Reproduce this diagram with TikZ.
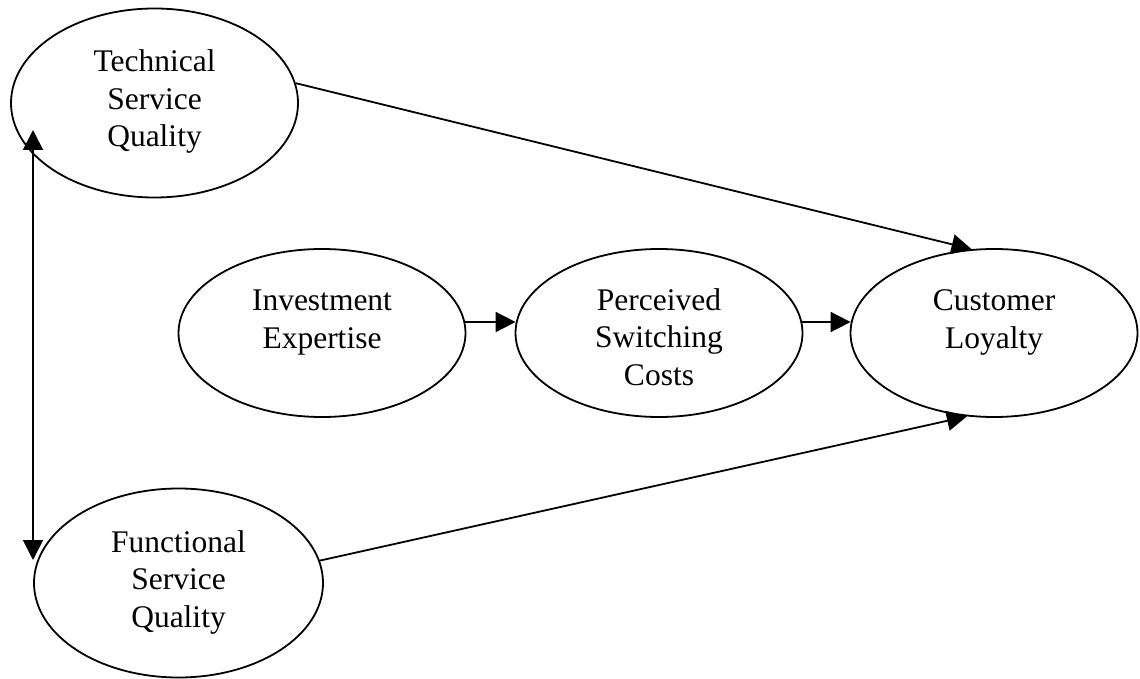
\documentclass[tikz,border=0pt]{standalone}
\usepackage{fontspec}
\setmainfont{Liberation Serif}
\usetikzlibrary{shapes.geometric,arrows.meta}
\begin{document}
\begin{tikzpicture}[x=1pt,y=-1pt,
  construct/.style={ellipse,draw,line width=1.8pt,inner sep=0pt,
    minimum width=287pt,minimum height=168pt},
  tall/.style={minimum height=189pt},
  caption/.style={anchor=base,align=center,inner sep=0pt,
    font=\fontsize{31.5}{37.5}\selectfont},
  link/.style={line width=1.8pt,-{Triangle[length=20pt,width=20pt]}},
  twoway/.style={line width=1.8pt,{Triangle[length=20pt,width=20pt]}-{Triangle[length=20pt,width=20pt]}},
]
\useasboundingbox (0,0) rectangle (1140,679);

% constructs
\node[construct,tall] (tech) at (154.5,103) {};
\node[construct,tall,minimum width=289pt] (func) at (178.5,583) {};
\node[construct] (inv) at (322,333) {};
\node[construct] (psc) at (659,333) {};
\node[construct] (loy) at (994,333) {};

% construct names (anchored at the baseline of the last line)
\node[caption] (techtxt) at (154.5,147) {Technical\\Service\\Quality};
\node[caption] (functxt) at (178.5,627) {Functional\\Service\\Quality};
\node[caption] (invtxt) at (322,348) {Investment\\Expertise};
\node[caption] (psctxt) at (659,385) {Perceived\\Switching\\Costs};
\node[caption] (loytxt) at (994,348) {Customer\\Loyalty};

% paths
\draw[link] ([xshift=-1pt,yshift=11pt]inv.east) -- ([xshift=1pt,yshift=11pt]psc.west);
\draw[link] ([xshift=-1pt,yshift=11pt]psc.east) -- ([xshift=1pt,yshift=11pt]loy.west);
\draw[link] (tech.8.7) -- (loy.105.8);
\draw[link] (func.9) -- (loy.252.8);

% correlation between the two quality dimensions
\coordinate (corrtop) at (33,130);
\coordinate (corrbot) at (33,560);
\draw[twoway] (corrtop) -- (corrbot);
\end{tikzpicture}
\end{document}
